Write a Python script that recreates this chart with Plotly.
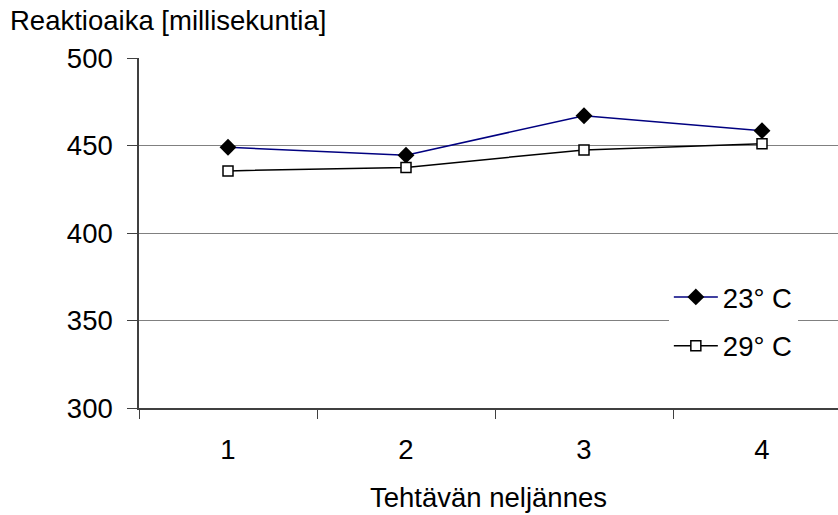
import plotly.graph_objects as go

# Reaction time per quarter of the task at two room temperatures
quarters = ["1", "2", "3", "4"]
temp_23 = [449, 444.5, 467, 458.5]
temp_29 = [435.5, 437.5, 447.5, 451]
series_names = ["23° C", "29° C"]
y_ticks = [300, 350, 400, 450, 500]

FONT = "Liberation Sans, Arial, sans-serif"
FS = 27.5

fig = go.Figure()
fig.add_trace(go.Scatter(
    x=quarters, y=temp_23, name=series_names[0], mode="lines+markers",
    line=dict(color="#000080", width=1.5),
    marker=dict(symbol="diamond", size=13, color="black",
                line=dict(color="black", width=0)),
    legendgroup="a",
))
fig.add_trace(go.Scatter(
    x=quarters, y=temp_29, name=series_names[1], mode="lines+markers",
    line=dict(color="black", width=1.5),
    marker=dict(symbol="square", size=10, color="white",
                line=dict(color="black", width=1.5)),
    legendgroup="b",
))

fig.update_layout(
    width=838, height=515,
    margin=dict(l=139, r=0, t=58, b=107),
    paper_bgcolor="white", plot_bgcolor="white",
    font=dict(family=FONT, size=FS, color="black"),
    showlegend=True,
    legend=dict(
        x=0.758, y=0.247, xanchor="left", yanchor="middle",
        bgcolor="white", borderwidth=0, itemwidth=44,
        font=dict(family=FONT, size=FS, color="black"),
        traceorder="grouped", tracegroupgap=10,
    ),
    annotations=[dict(
        text="Reaktioaika [millisekuntia]", xref="paper", yref="paper",
        x=-139 / 699, y=1 + 58 / 350, xanchor="left", yanchor="top",
        yshift=-3, xshift=8, showarrow=False,
        font=dict(family=FONT, size=FS, color="black"),
    )],
)

fig.update_xaxes(
    type="category", range=[-0.5, -0.5 + 699 / 178],
    tickson="boundaries", ticks="outside", ticklen=9, tickwidth=1,
    tickcolor="#404040", showgrid=False, showline=True,
    linecolor="#404040", linewidth=1.5, zeroline=False,
    ticklabelstandoff=16,
    title=dict(text="Tehtävän neljännes", standoff=24,
               font=dict(family=FONT, size=FS)),
)
fig.update_yaxes(
    range=[300, 500], tickvals=y_ticks, ticks="outside", ticklen=10,
    tickwidth=1, tickcolor="#404040", showgrid=True, gridcolor="#808080",
    gridwidth=1, showline=True, linecolor="#404040", linewidth=1.5,
    zeroline=False, ticklabelstandoff=9,
)

fig.write_html("out.html")
